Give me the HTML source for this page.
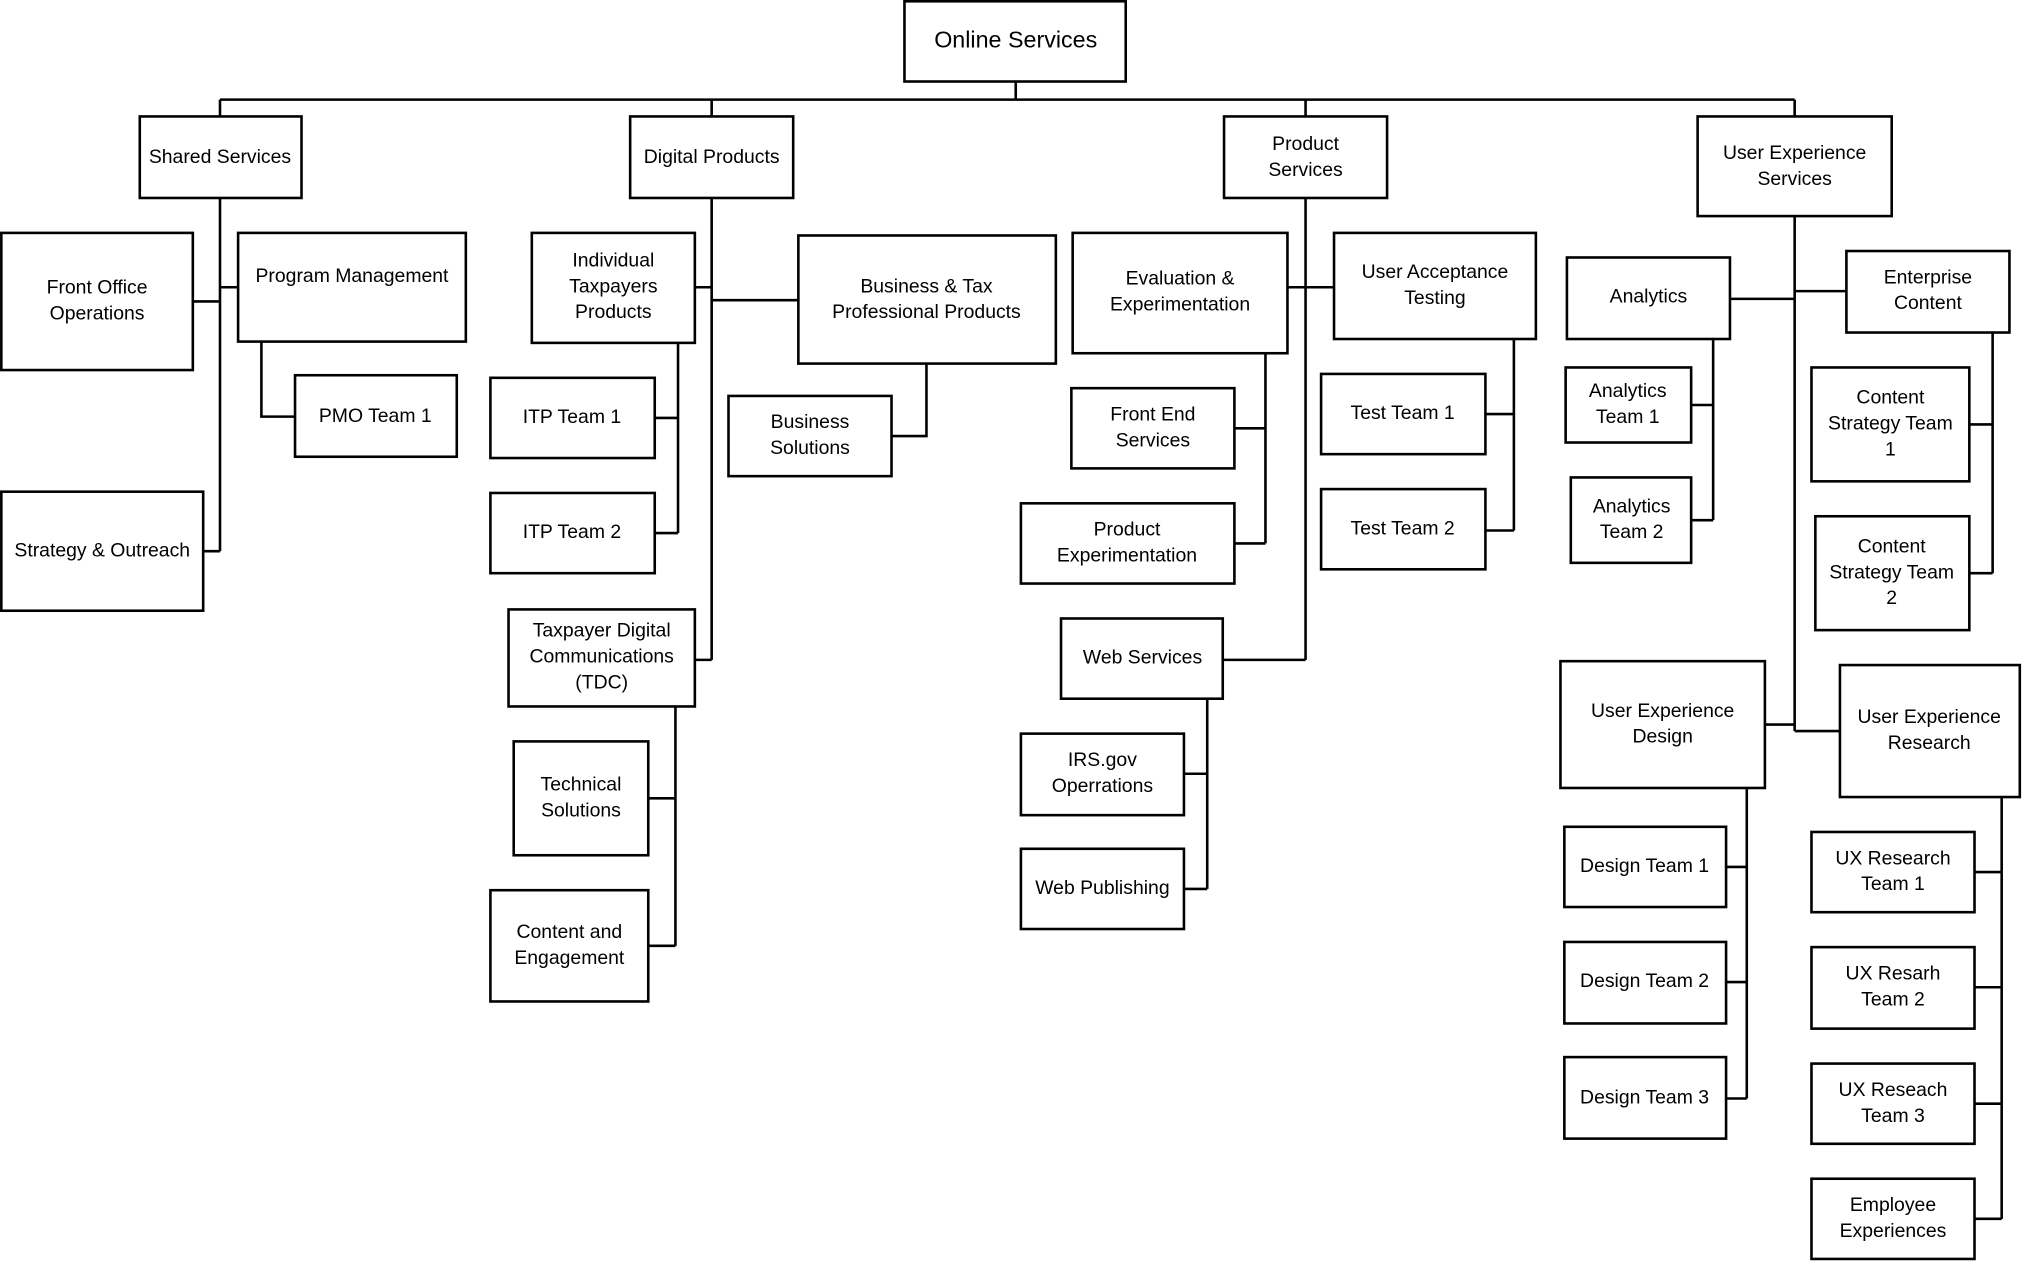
<!DOCTYPE html>
<html><head><meta charset="utf-8"><style>
html,body{margin:0;padding:0;background:#fff;}
svg{display:block}
rect{fill:#fff;stroke:#000;stroke-width:2}
path{fill:none;stroke:#000;stroke-width:2}
text{font-family:"Liberation Sans",sans-serif;font-size:15px;fill:#000;text-anchor:middle;dominant-baseline:middle}
</style></head><body>
<svg width="2025" height="1275" viewBox="0 0 1565 985.4">
<path d="M785 63V77M170 77H1387M170 77V90M550 77V90M1009 77V90M1387 77V90
M170 153V426M149 233H170M170 222H184M202 264V322H228M157 426H170
M550 153V510M537 222H550M550 232H617M716 281V337H689M524 265V412M506 323H524M506 412H524M537 510H550M522 546V731M501 617H522M501 731H522
M1009 153V510M995 222H1009M1009 222H1031M978 273V420M954 331H978M954 420H978M1170 262V410M1148 320H1170M1148 410H1170M945 510H1009M933 540V687M915 598H933M915 687H933
M1387 167V565M1337 231H1387M1387 225H1427M1324 262V402M1307 313H1324M1307 402H1324M1540 257V443M1522 328H1540M1522 443H1540M1387 565H1422M1364 560H1387M1350 609V849M1334 670H1350M1334 759H1350M1334 849H1350M1547 616V942M1526 674H1547M1526 763H1547M1526 853H1547M1526 942H1547"/>
<rect x="699" y="1" width="171" height="62"/><text x="785" y="32" style="font-size:18px">Online Services</text>
<rect x="108" y="90" width="125" height="63"/><text x="170" y="122">Shared Services</text>
<rect x="487" y="90" width="126" height="63"/><text x="550" y="122">Digital Products</text>
<rect x="946" y="90" width="126" height="63"/><text x="1009" y="112">Product</text><text x="1009" y="132">Services</text>
<rect x="1312" y="90" width="150" height="77"/><text x="1387" y="119">User Experience</text><text x="1387" y="139">Services</text>
<rect x="1" y="180" width="148" height="106"/><text x="75" y="223">Front Office</text><text x="75" y="243">Operations</text>
<rect x="184" y="180" width="176" height="84"/><text x="272" y="214">Program Management</text>
<rect x="228" y="290" width="125" height="63"/><text x="290" y="322">PMO Team 1</text>
<rect x="1" y="380" width="156" height="92"/><text x="79" y="426">Strategy &amp; Outreach</text>
<rect x="411" y="180" width="126" height="85"/><text x="474" y="202">Individual</text><text x="474" y="222">Taxpayers</text><text x="474" y="242">Products</text>
<rect x="617" y="182" width="199" height="99"/><text x="716" y="222">Business &amp; Tax</text><text x="716" y="242">Professional Products</text>
<rect x="563" y="306" width="126" height="62"/><text x="626" y="327">Business</text><text x="626" y="347">Solutions</text>
<rect x="379" y="292" width="127" height="62"/><text x="442" y="323">ITP Team 1</text>
<rect x="379" y="381" width="127" height="62"/><text x="442" y="412">ITP Team 2</text>
<rect x="393" y="471" width="144" height="75"/><text x="465" y="488">Taxpayer Digital</text><text x="465" y="508">Communications</text><text x="465" y="528">(TDC)</text>
<rect x="397" y="573" width="104" height="88"/><text x="449" y="607">Technical</text><text x="449" y="627">Solutions</text>
<rect x="379" y="688" width="122" height="86"/><text x="440" y="721">Content and</text><text x="440" y="741">Engagement</text>
<rect x="829" y="180" width="166" height="93"/><text x="912" y="216">Evaluation &amp;</text><text x="912" y="236">Experimentation</text>
<rect x="1031" y="180" width="156" height="82"/><text x="1109" y="211">User Acceptance</text><text x="1109" y="231">Testing</text>
<rect x="828" y="300" width="126" height="62"/><text x="891" y="321">Front End</text><text x="891" y="341">Services</text>
<rect x="789" y="389" width="165" height="62"/><text x="871" y="410">Product</text><text x="871" y="430">Experimentation</text>
<rect x="1021" y="289" width="127" height="62"/><text x="1084" y="320">Test Team 1</text>
<rect x="1021" y="378" width="127" height="62"/><text x="1084" y="409">Test Team 2</text>
<rect x="820" y="478" width="125" height="62"/><text x="883" y="509">Web Services</text>
<rect x="789" y="567" width="126" height="63"/><text x="852" y="588">IRS.gov</text><text x="852" y="608">Operrations</text>
<rect x="789" y="656" width="126" height="62"/><text x="852" y="687">Web Publishing</text>
<rect x="1211" y="199" width="126" height="63"/><text x="1274" y="230">Analytics</text>
<rect x="1427" y="194" width="126" height="63"/><text x="1490" y="215">Enterprise</text><text x="1490" y="235">Content</text>
<rect x="1210" y="284" width="97" height="58"/><text x="1258" y="303">Analytics</text><text x="1258" y="323">Team 1</text>
<rect x="1214" y="369" width="93" height="66"/><text x="1261" y="392">Analytics</text><text x="1261" y="412">Team 2</text>
<rect x="1400" y="284" width="122" height="88"/><text x="1461" y="308">Content</text><text x="1461" y="328">Strategy Team</text><text x="1461" y="348">1</text>
<rect x="1403" y="399" width="119" height="88"/><text x="1462" y="423">Content</text><text x="1462" y="443">Strategy Team</text><text x="1462" y="463">2</text>
<rect x="1206" y="511" width="158" height="98"/><text x="1285" y="550">User Experience</text><text x="1285" y="570">Design</text>
<rect x="1422" y="514" width="139" height="102"/><text x="1491" y="555">User Experience</text><text x="1491" y="575">Research</text>
<rect x="1209" y="639" width="125" height="62"/><text x="1271" y="670">Design Team 1</text>
<rect x="1209" y="728" width="125" height="63"/><text x="1271" y="759">Design Team 2</text>
<rect x="1209" y="817" width="125" height="63"/><text x="1271" y="849">Design Team 3</text>
<rect x="1400" y="643" width="126" height="62"/><text x="1463" y="664">UX Research</text><text x="1463" y="684">Team 1</text>
<rect x="1400" y="732" width="126" height="63"/><text x="1463" y="753">UX Resarh</text><text x="1463" y="773">Team 2</text>
<rect x="1400" y="822" width="126" height="62"/><text x="1463" y="843">UX Reseach</text><text x="1463" y="863">Team 3</text>
<rect x="1400" y="911" width="126" height="62"/><text x="1463" y="932">Employee</text><text x="1463" y="952">Experiences</text>
</svg>
</body></html>
